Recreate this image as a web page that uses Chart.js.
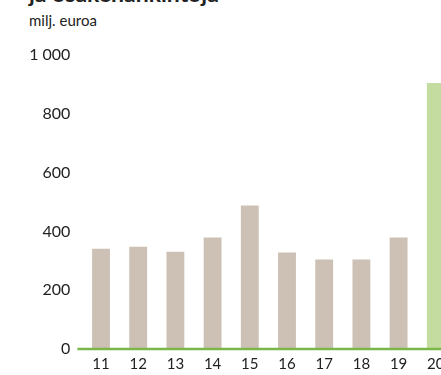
<!DOCTYPE html>
<html lang="fi">
<head>
<meta charset="utf-8">
<script src="https://cdn.jsdelivr.net/npm/chart.js@4"></script>
<style>
  html, body { margin: 0; padding: 0; background: #fff; width: 441px; height: 375px; overflow: hidden; }
  body { position: relative; font-family: Lato, "DejaVu Sans", sans-serif; color: #222; }
  .title { position: absolute; left: 29px; top: -21px; font-size: 23px; font-weight: bold; line-height: 28px; white-space: nowrap; }
  .unit { position: absolute; left: 29px; top: 11px; font-size: 15px; line-height: 18px; }
  .wrap { position: absolute; left: 0; top: 0; width: 460px; height: 375px; }
</style>
</head>
<body>
<div class="title">ja osakehankintoja</div>
<div class="unit">milj. euroa</div>
<div class="wrap"><canvas id="chart" width="460" height="375"></canvas></div>
<script>
// vuodet ja arvot (milj. euroa)
const years = ['11', '12', '13', '14', '15', '16', '17', '18', '19', '20'];
const values = [341, 348, 331, 379, 488, 328, 304, 304, 379, 905];
const yTicks = [0, 200, 400, 600, 800, 1000];

const barColor = '#cdc1b5';
const lastColor = '#c4dca0';
const axisGreen = '#7ab648';

function formatFi(v) {
    return String(v).replace(/\B(?=(\d{3})+(?!\d))/g, '\u00a0');
}

// vihreä nollaviiva
const zeroLine = {
    id: 'zeroLine',
    afterDatasetsDraw(chart) {
        const y = chart.scales.y.getPixelForValue(0);
        const ctx = chart.ctx;
        ctx.save();
        ctx.strokeStyle = axisGreen;
        ctx.lineWidth = 2.5;
        ctx.beginPath();
        ctx.moveTo(chart.chartArea.left - 5, y);
        ctx.lineTo(chart.width, y);
        ctx.stroke();
        ctx.restore();
    }
};

new Chart(document.getElementById('chart'), {
    type: 'bar',
    data: {
        labels: years,
        datasets: [{
            data: values,
            backgroundColor: years.map((y, i) => i === years.length - 1 ? lastColor : barColor),
            categoryPercentage: 1,
            barPercentage: 0.48
        }]
    },
    options: {
        responsive: false,
        animation: false,
        devicePixelRatio: 1,
        layout: { padding: { top: 55, right: 5.6, left: 0, bottom: 2 } },
        plugins: { legend: { display: false }, tooltip: { enabled: false } },
        scales: {
            x: {
                grid: { display: false, drawTicks: false },
                border: { display: false },
                afterFit: scale => { scale.height -= 6; },
                ticks: { color: '#222', font: { family: 'Lato', size: 15 }, padding: 6, maxRotation: 0 }
            },
            y: {
                min: 0,
                max: 1000,
                grid: { display: false, drawTicks: false },
                border: { display: false },
                afterBuildTicks: scale => { scale.ticks = yTicks.map(v => ({ value: v })); },
                afterFit: scale => { scale.width = 82.4; },
                ticks: {
                    color: '#222',
                    font: { family: 'Lato', size: 16 },
                    padding: 12,
                    callback: v => formatFi(v)
                }
            }
        }
    },
    plugins: [zeroLine]
});
</script>
</body>
</html>
